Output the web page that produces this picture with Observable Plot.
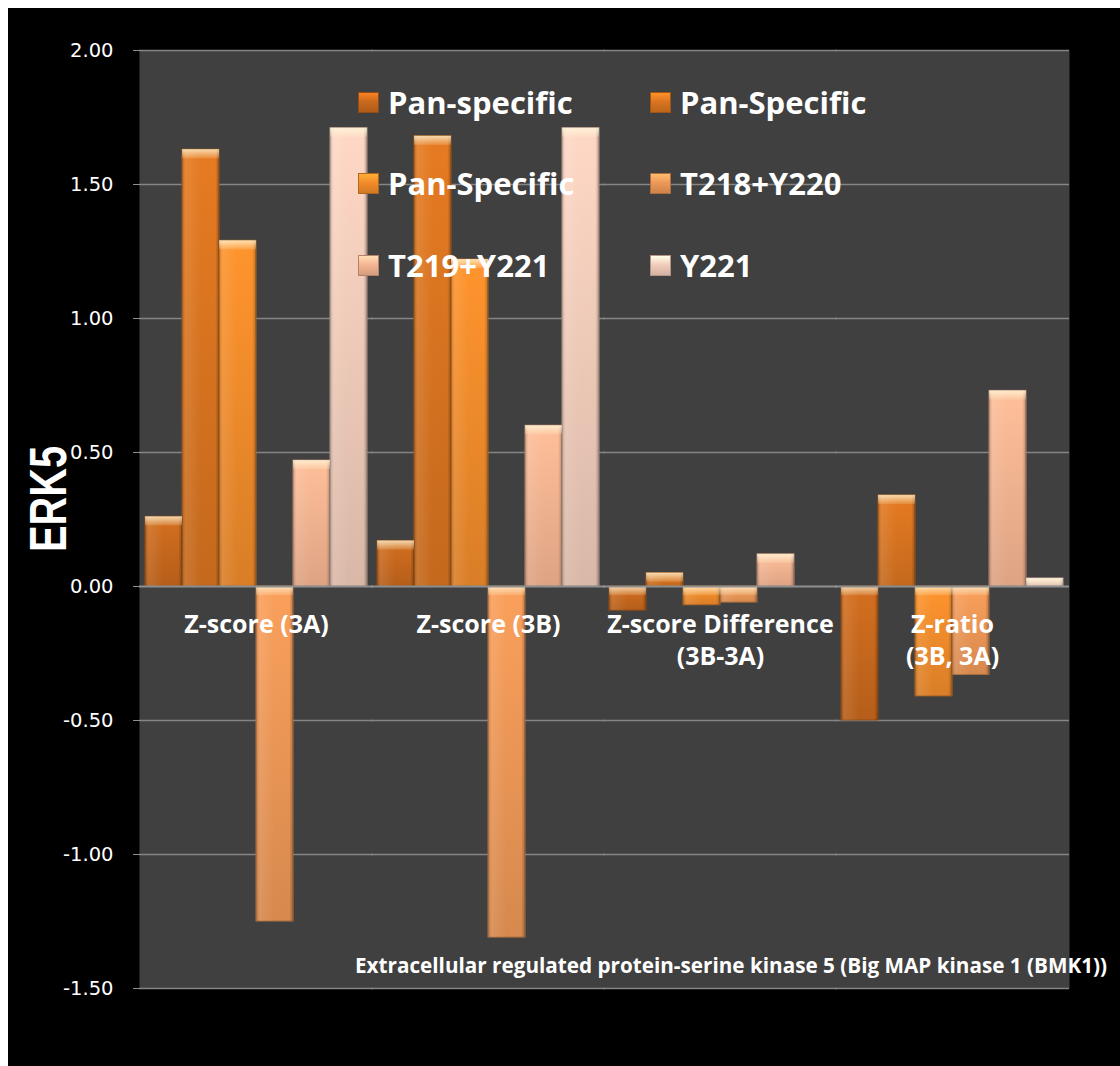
<!DOCTYPE html>
<html>
<head>
<meta charset="utf-8">
<script src="https://cdn.jsdelivr.net/npm/d3@7"></script>
<script src="https://cdn.jsdelivr.net/npm/@observablehq/plot@0.6"></script>
<style>
  html, body { margin: 0; padding: 0; background: #ffffff; }
  #page { position: relative; width: 1120px; height: 1066px; overflow: hidden; }
  #bg { position: absolute; left: 8px; top: 8px; right: 0; bottom: 0; background: #000000; }
  #chart { position: absolute; left: 0; top: 0; }
  .legend-item { position: absolute; display: flex; align-items: center; height: 40px;
    font-family: "Open Sans", sans-serif; font-weight: 700; font-size: 31px; color: #ffffff; white-space: nowrap; }
  .swatch { width: 21px; height: 21px; box-sizing: border-box; margin-right: 9px; }
  #caption { position: absolute; font-family: "Open Sans", sans-serif; font-weight: 700; font-size: 20.7px;
    color: #ffffff; white-space: nowrap; }
  #ylabel { position: absolute; left: 0; top: 0; }
</style>
</head>
<body>
<div id="page">
  <div id="bg"></div>
  <div id="chart"></div>
</div>
<script>
// ---- data ----
const categories = ["Z-score (3A)", "Z-score (3B)", "Z-score Difference\n(3B-3A)", "Z-ratio\n(3B, 3A)"];
const seriesKeys = ["s1", "s2", "s3", "s4", "s5", "s6"];
const seriesNames = ["Pan-specific", "Pan-Specific", "Pan-Specific", "T218+Y220", "T219+Y221", "Y221"];
const seriesColors = ["#C9691D", "#DA7520", "#F28C2B", "#EE9857", "#F6B592", "#F2CDBB"];
const zScore3A = [0.26, 1.63, 1.29, -1.25, 0.47, 1.71];
const zScore3B = [0.17, 1.68, 1.22, -1.31, 0.60, 1.71];
const zScoreDiff = [-0.09, 0.05, -0.07, -0.06, 0.12, 0.00];
const zRatio = [-0.50, 0.34, -0.41, -0.33, 0.73, 0.03];
const yTicks = [-1.5, -1.0, -0.5, 0, 0.5, 1.0, 1.5, 2.0];
const yLabel = "ERK5";
const captionText = "Extracellular regulated protein-serine kinase 5 (Big MAP kinase 1 (BMK1))";

const valuesByCategory = [zScore3A, zScore3B, zScoreDiff, zRatio];
const rows = categories.flatMap((c, ci) =>
  seriesKeys.map((k, si) => ({category: c, key: k, series: si, value: valuesByCategory[ci][si]})));

const capUnits = 0.034;

const marks = [
  Plot.frame({fill: "#404040", insetLeft: -1, insetRight: -1}),
  Plot.ruleY(yTicks.filter(t => t !== 0), {stroke: "#858585", strokeWidth: 1.5, insetLeft: -1, insetRight: -1}),
  ...seriesKeys.map((k, i) => Plot.barY(rows.filter(d => d.key === k), {
    fx: "category", x: "key", y: "value",
    fill: `url(#vg${i})`,
    stroke: d3.color(seriesColors[i]).darker(0.9).formatHex(),
    strokeWidth: 1
  })),
  Plot.barY(rows, {fx: "category", x: "key", y: "value", fill: "url(#hg)"}),
  Plot.barY(rows, {
    fx: "category", x: "key",
    y1: d => Math.max(d.value, 0),
    y2: d => Math.max(d.value, 0) - Math.min(Math.abs(d.value), capUnits),
    fill: "url(#capg)"
  }),
  Plot.ruleY([0], {stroke: "#8f8f8f", strokeWidth: 2, insetLeft: -1, insetRight: -1}),
  Plot.axisY({
    ticks: yTicks, tickFormat: d => d.toFixed(2), tickSize: 7, tickPadding: 20,
    stroke: "#8f8f8f", fill: "#ffffff", fontSize: 19.5, label: null, line: true
  }),
  Plot.text(categories, {
    fx: d => d, y: d => 0, text: d => d,
    lineAnchor: "top", dy: 24, lineHeight: 1.28,
    fill: "#ffffff", fontSize: 25, fontWeight: "bold", fontFamily: "Open Sans"
  })
];

const chart = Plot.plot({
  width: 1120,
  height: 1066,
  marginLeft: 140,
  marginRight: 52,
  marginTop: 50,
  marginBottom: 78,
  style: {background: "transparent", color: "#ffffff", fontFamily: "DejaVu Sans", overflow: "visible"},
  fx: {domain: categories, padding: 0, axis: null},
  x: {domain: seriesKeys, paddingInner: 0, paddingOuter: 0.135, axis: null},
  y: {domain: [-1.5, 2]},
  marks
});

// gradients
const svg = d3.select(chart.tagName.toLowerCase() === "svg" ? chart : chart.querySelector("svg"));
const defs = svg.insert("defs", ":first-child");
seriesColors.forEach((c, i) => {
  const g = defs.append("linearGradient").attr("id", `vg${i}`).attr("x1", 0).attr("y1", 0).attr("x2", 0).attr("y2", 1);
  g.append("stop").attr("offset", "0%").attr("stop-color", d3.color(c).brighter(0.15).formatHex());
  g.append("stop").attr("offset", "100%").attr("stop-color", d3.color(c).darker(0.3).formatHex());
});
const hg = defs.append("linearGradient").attr("id", "hg").attr("x1", 0).attr("y1", 0).attr("x2", 1).attr("y2", 0);
[["0%", "#000", 0.18], ["10%", "#fff", 0.10], ["50%", "#fff", 0.0], ["90%", "#000", 0.0], ["100%", "#000", 0.25]]
  .forEach(([o, c, a]) => hg.append("stop").attr("offset", o).attr("stop-color", c).attr("stop-opacity", a));
const capg = defs.append("linearGradient").attr("id", "capg").attr("x1", 0).attr("y1", 0).attr("x2", 0).attr("y2", 1);
[["0%", "#fffbe0", 0.75], ["100%", "#fff5d0", 0.15]]
  .forEach(([o, c, a]) => capg.append("stop").attr("offset", o).attr("stop-color", c).attr("stop-opacity", a));

document.getElementById("chart").appendChild(chart);

// legend
const page = document.getElementById("page");
const legendPos = [[358, 82], [650, 82], [358, 163], [650, 163], [358, 245], [650, 245]];
seriesNames.forEach((name, i) => {
  const item = document.createElement("div");
  item.className = "legend-item";
  item.style.left = legendPos[i][0] + "px";
  item.style.top = legendPos[i][1] + "px";
  const sw = document.createElement("div");
  sw.className = "swatch";
  const c = seriesColors[i];
  sw.style.background = `linear-gradient(to bottom, ${d3.color(c).brighter(0.6).formatHex()}, ${c} 45%, ${d3.color(c).darker(0.4).formatHex()})`;
  sw.style.border = `1px solid ${d3.color(c).darker(0.9).formatHex()}`;
  const tx = document.createElement("span");
  tx.textContent = name;
  item.appendChild(sw);
  item.appendChild(tx);
  page.appendChild(item);
});

// caption
const cap = document.createElement("div");
cap.id = "caption";
cap.textContent = captionText;
cap.style.left = "355px";
cap.style.top = "951px";
page.appendChild(cap);

// y label
const ns = "http://www.w3.org/2000/svg";
const ysvg = document.createElementNS(ns, "svg");
ysvg.setAttribute("id", "ylabel");
ysvg.setAttribute("width", 120);
ysvg.setAttribute("height", 1066);
const yt = document.createElementNS(ns, "text");
yt.setAttribute("transform", "translate(48,499) rotate(-90)");
yt.setAttribute("text-anchor", "middle");
yt.setAttribute("dominant-baseline", "central");
yt.setAttribute("font-family", "Liberation Sans Narrow, Liberation Sans, sans-serif");
yt.setAttribute("font-weight", "bold");
yt.setAttribute("font-size", "52");
yt.setAttribute("fill", "#ffffff");
yt.setAttribute("textLength", "106");
yt.setAttribute("lengthAdjust", "spacingAndGlyphs");
yt.textContent = yLabel;
ysvg.appendChild(yt);
page.appendChild(ysvg);
</script>
</body>
</html>
